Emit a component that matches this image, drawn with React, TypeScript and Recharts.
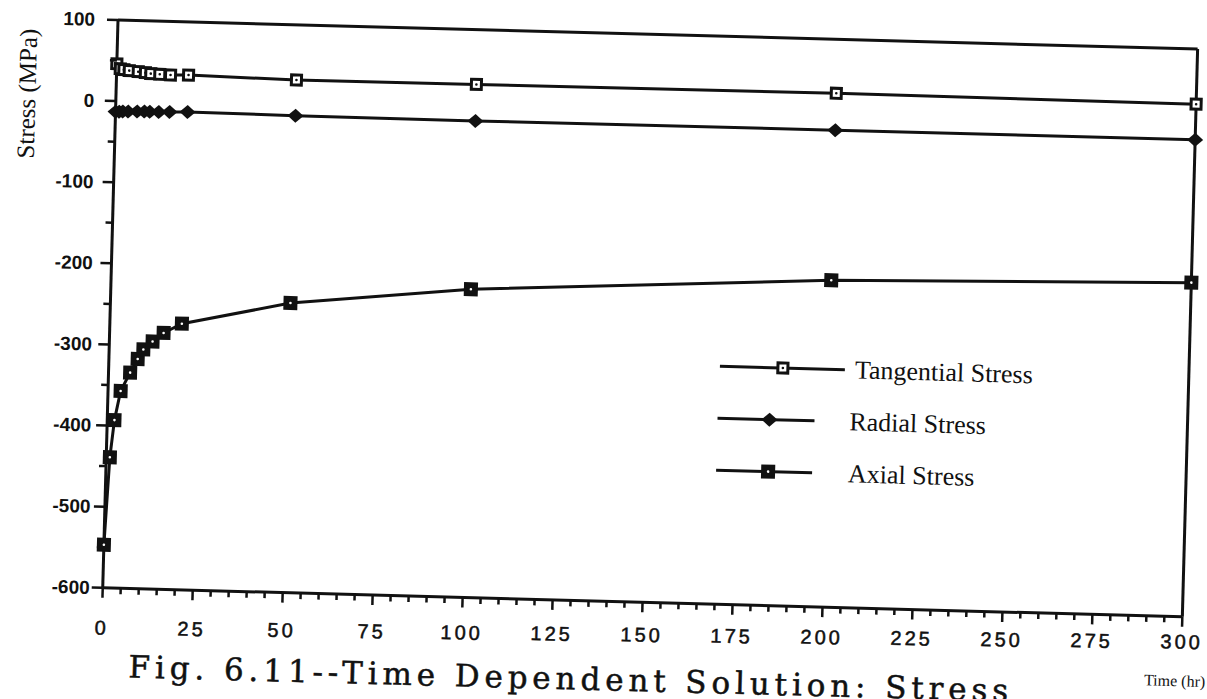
import React from "react";
import { LineChart, Line, XAxis, YAxis, ReferenceLine, Legend } from "recharts";

// time (hr) of each computed step
const times = [0, 1, 2, 3.5, 6, 8, 9.5, 12, 15, 20, 50, 100, 200, 300];
// stresses in MPa
const tangential = [46, 40, 39, 38, 37, 36, 35, 34.5, 34, 34.5, 32, 32.5, 33.5, 32];
const radial = [-13, -13, -12.5, -12.5, -12, -12, -12, -12, -11.5, -11, -12, -12.5, -12, -12];
const axial = [-547, -439, -393, -357, -334, -317, -305, -295, -284, -272, -243, -220, -197, -188];

const seriesNames = ["Tangential Stress", "Radial Stress", "Axial Stress"];
const xLabels = [0, 25, 50, 75, 100, 125, 150, 175, 200, 225, 250, 275, 300];
const yLabels = [100, 0, -100, -200, -300, -400, -500, -600];

const xTicks = Array.from({ length: 61 }, (_, i) => i * 5);
const yTicks = Array.from({ length: 15 }, (_, i) => -600 + i * 50);

const data = times.map((t, i) => ({
  t,
  tangential: tangential[i],
  radial: radial[i],
  axial: axial[i],
}));

const INK = "#111";
const SANS = "'Liberation Sans', Arial, sans-serif";
const SERIF = "'Liberation Serif', 'Times New Roman', serif";

// markers
const openSquare = (cx: number, cy: number, key?: string) => (
  <g key={key}>
    <rect x={cx - 5} y={cy - 5} width={10} height={10} fill="#fff" stroke={INK} strokeWidth={3} />
    <circle cx={cx} cy={cy} r={1.3} fill={INK} />
  </g>
);
const diamond = (cx: number, cy: number, key?: string) => (
  <polygon
    key={key}
    points={`${cx - 8},${cy} ${cx},${cy - 7} ${cx + 8},${cy} ${cx},${cy + 7}`}
    fill={INK}
  />
);
const filledSquare = (cx: number, cy: number, key?: string) => (
  <g key={key}>
    <rect x={cx - 7} y={cy - 7} width={14} height={14} fill={INK} />
    <circle cx={cx} cy={cy} r={1.3} fill="#fff" />
  </g>
);
const markers = [openSquare, diamond, filledSquare];

const dotFor = (i: number, prefix: string) => (p: any) =>
  markers[i](p.cx, p.cy, `${prefix}${p.index}`);

const XTick = ({ x, y, payload }: any) => {
  const v = payload.value;
  const major = xLabels.includes(v);
  // the scanned labels drift less than the tilted axis
  const drop = 25 + 15 * (1 - v / 300);
  return (
    <g>
      <line x1={x} y1={y} x2={x} y2={y + (major ? 10 : 6)} stroke={INK} strokeWidth={2.5} />
      {major && (
        <text
          x={x}
          y={y + drop}
          textAnchor="middle"
          dominantBaseline="central"
          fontFamily={SANS}
          fontSize={20}
          letterSpacing={3}
          stroke={INK}
          strokeWidth={0.5}
          fill={INK}
        >
          {v}
        </text>
      )}
    </g>
  );
};

const YTick = ({ x, y, payload }: any) => {
  const v = payload.value;
  const major = yLabels.includes(v);
  const gap = 13 + (10 * (v + 600)) / 700;
  return (
    <g>
      <line x1={x} y1={y} x2={x - (major ? 11 : 7)} y2={y} stroke={INK} strokeWidth={2.5} />
      {major && (
        <text
          x={x - gap}
          y={y}
          textAnchor="end"
          dominantBaseline="central"
          fontFamily={SANS}
          fontWeight="bold"
          fontSize={19}
          fill={INK}
        >
          {v}
        </text>
      )}
    </g>
  );
};

const legendLines = [
  { x1: 29, x2: 154, m: 92 },
  { x1: 28, x2: 125, m: 80 },
  { x1: 28, x2: 124, m: 80 },
];

const LegendBox = () => (
  <svg width={420} height={170}>
    {seriesNames.map((name, i) => {
      const y = 30 + i * 52;
      const l = legendLines[i];
      return (
        <g key={name}>
          <line x1={l.x1} y1={y} x2={l.x2} y2={y} stroke={INK} strokeWidth={3} />
          {markers[i](l.m, y)}
          <text
            x={i === 0 ? 164 : 160}
            y={y}
            dominantBaseline="central"
            fontFamily={SERIF}
            fontSize={26}
            fill={INK}
          >
            {name}
          </text>
        </g>
      );
    })}
  </svg>
);

export default function App() {
  return (
    <div
      style={{
        position: "absolute",
        left: 0,
        top: 0,
        width: 1207,
        height: 699,
        overflow: "hidden",
        background: "#fff",
      }}
    >
      <div
        style={{
          position: "absolute",
          left: 0,
          top: 0,
          width: 1240,
          height: 699,
          transform: "rotate(1.54deg)",
          transformOrigin: "118px 20px",
        }}
      >
        <LineChart
          width={1240}
          height={699}
          data={data}
          margin={{ top: 20, right: 42, left: 58, bottom: 71 }}
        >
          <XAxis
            dataKey="t"
            type="number"
            domain={[0, 300]}
            ticks={xTicks}
            interval={0}
            tickSize={0}
            tickMargin={0}
            tickLine={false}
            axisLine={{ stroke: INK, strokeWidth: 3 }}
            height={40}
            tick={(p: any) => <XTick {...p} />}
          />
          <YAxis
            type="number"
            domain={[-600, 100]}
            ticks={yTicks}
            interval={0}
            tickSize={0}
            tickMargin={0}
            tickLine={false}
            axisLine={{ stroke: INK, strokeWidth: 3 }}
            width={60}
            tick={(p: any) => <YTick {...p} />}
          />
          <ReferenceLine y={100} stroke={INK} strokeWidth={3} />
          <ReferenceLine x={300} stroke={INK} strokeWidth={3} />
          <Legend
            layout="vertical"
            verticalAlign="middle"
            align="center"
            wrapperStyle={{ left: 700, top: 320, width: 420, height: 170 }}
            content={() => <LegendBox />}
          />
          <Line
            type="linear"
            dataKey="tangential"
            name={seriesNames[0]}
            stroke={INK}
            strokeWidth={3}
            dot={dotFor(0, "tg")}
            activeDot={false}
            isAnimationActive={false}
          />
          <Line
            type="linear"
            dataKey="radial"
            name={seriesNames[1]}
            stroke={INK}
            strokeWidth={3}
            dot={dotFor(1, "rd")}
            activeDot={false}
            isAnimationActive={false}
          />
          <Line
            type="linear"
            dataKey="axial"
            name={seriesNames[2]}
            stroke={INK}
            strokeWidth={3}
            dot={dotFor(2, "ax")}
            activeDot={false}
            isAnimationActive={false}
          />
        </LineChart>
        <svg
          width={1240}
          height={760}
          style={{ position: "absolute", left: 0, top: 0, pointerEvents: "none", overflow: "visible" }}
        >
          <text
            x={29}
            y={96}
            transform="rotate(-90 29 96)"
            textAnchor="middle"
            dominantBaseline="central"
            fontFamily={SERIF}
            fontSize={25}
            fill={INK}
          >
            Stress (MPa)
          </text>
          <text
            x={1192}
            y={652}
            textAnchor="middle"
            dominantBaseline="central"
            fontFamily={SERIF}
            fontSize={16}
            fill={INK}
          >
            Time (hr)
          </text>
          <text
            x={146}
            y={677}
            textLength={880}
            lengthAdjust="spacing"
            fontFamily="'DejaVu Serif', serif"
            fontSize={31}
            stroke={INK}
            strokeWidth={0.5}
            fill={INK}
          >
            Fig. 6.11--Time Dependent Solution: Stress
          </text>
        </svg>
      </div>
    </div>
  );
}
